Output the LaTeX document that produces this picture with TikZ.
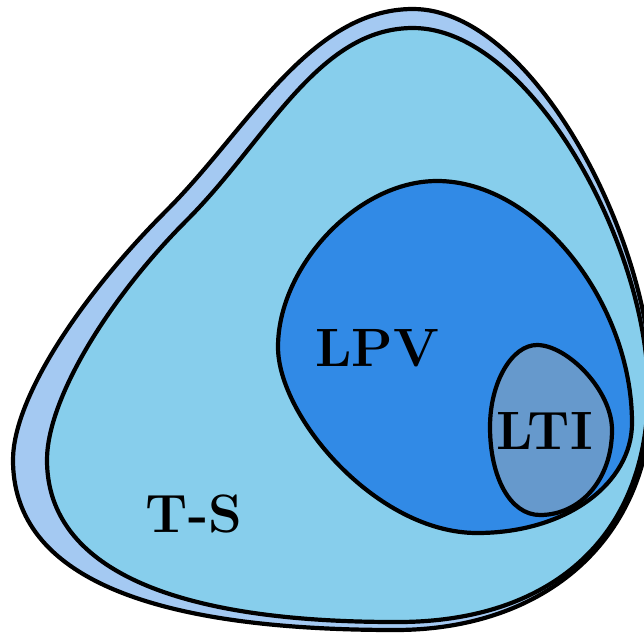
\documentclass[tikz,border=0pt]{standalone}
\usepackage{fontspec}
\definecolor{outerA}{RGB}{164,201,242}
\definecolor{innerB}{RGB}{135,206,236}
\definecolor{lpvC}{RGB}{49,138,230}
\definecolor{ltiD}{RGB}{102,153,204}
\tikzset{
  region/.style={draw=black, line width=4.2pt, line join=round},
  lbl/.style={font=\fontsize{54}{64}\selectfont\bfseries, inner sep=0pt, text=black}
}
\begin{document}
\begin{tikzpicture}[x=1pt,y=-1pt]
\useasboundingbox (0,0) rectangle (644,632);
\clip (0,0) rectangle (644,632);
% outer set
\draw[region, fill=outerA] (413,9)
  .. controls (310,9) and (247,130) .. (167,210)
  .. controls (77,300) and (13,400) .. (13,460)
  .. controls (13,570) and (135,630) .. (395,630)
  .. controls (545,630) and (652,540) .. (652,390)
  .. controls (652,240) and (533,9) .. (413,9) -- cycle;
% T-S
\draw[region, fill=innerB] (413,28)
  .. controls (318,28) and (267,140) .. (187,220)
  .. controls (107,300) and (47,400) .. (47,460)
  .. controls (47,560) and (155,622) .. (395,622)
  .. controls (548,623) and (648,540) .. (648,390)
  .. controls (648,245) and (530,28) .. (413,28) -- cycle;
% LPV
\draw[region, fill=lpvC] (437,181)
  .. controls (357,181) and (278,267) .. (278,347)
  .. controls (278,417) and (377,533) .. (477,533)
  .. controls (567,533) and (632,483) .. (632,423)
  .. controls (632,303) and (537,181) .. (437,181) -- cycle;
% LTI
\draw[region, fill=ltiD] (537,345)
  .. controls (512,345) and (490,382) .. (490,427)
  .. controls (490,477) and (510,515) .. (540,515)
  .. controls (580,515) and (612,480) .. (612,430)
  .. controls (612,390) and (567,345) .. (537,345) -- cycle;
\node[lbl] (lpv) at (377,348.5) {LPV};
\node[lbl] (lti) at (544.5,431) {LTI};
\node[lbl] (ts) at (194,514) {T-S};
\end{tikzpicture}
\end{document}
